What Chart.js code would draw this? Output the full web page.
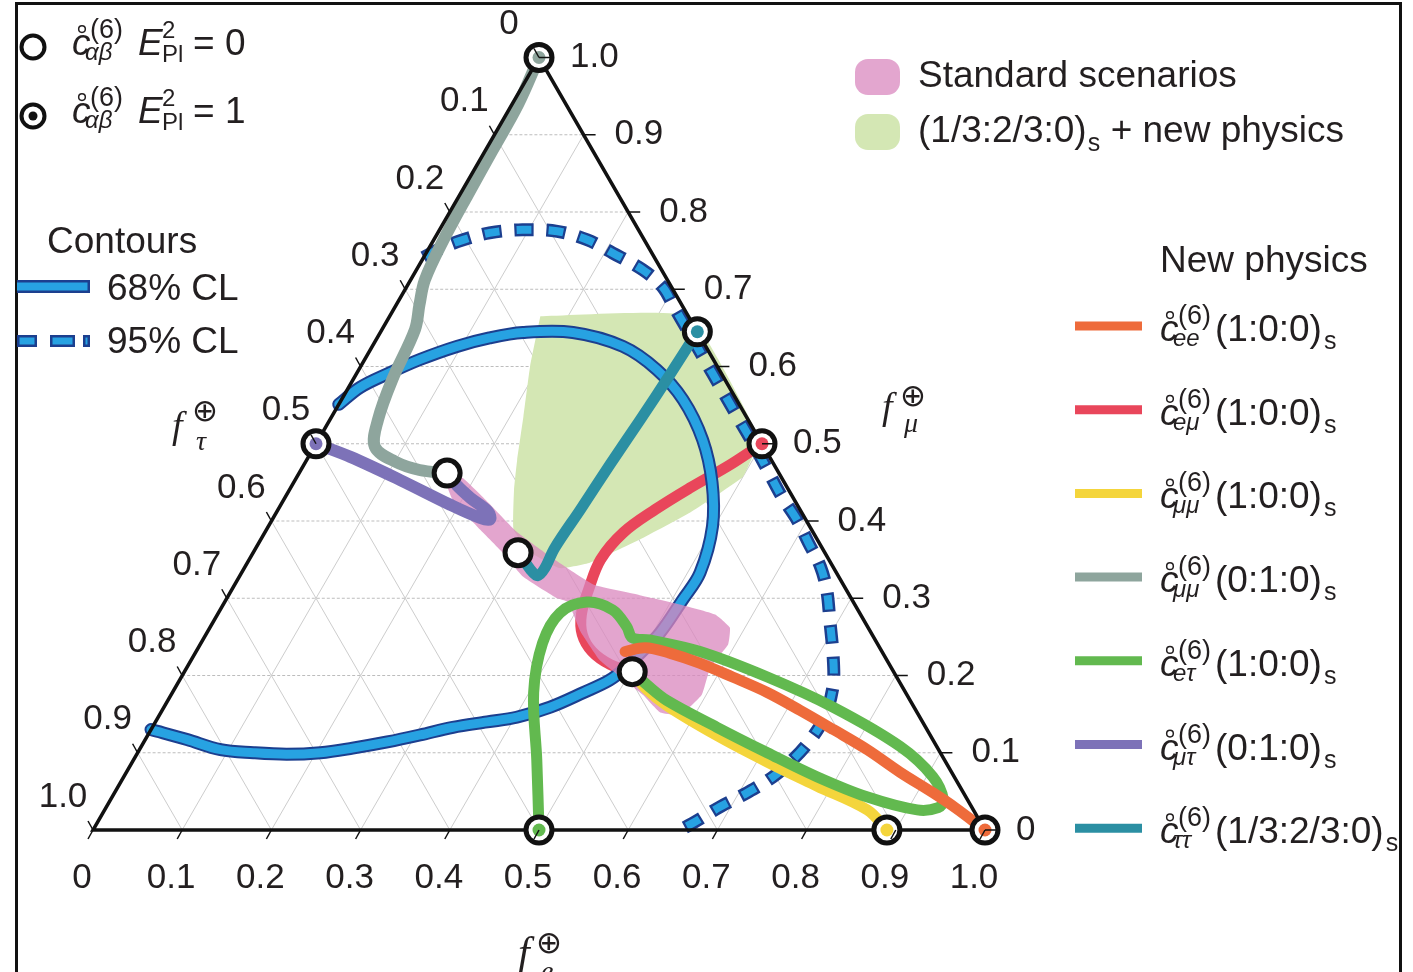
<!DOCTYPE html>
<html><head><meta charset="utf-8">
<script src="https://cdn.jsdelivr.net/npm/chart.js@4.4.1/dist/chart.umd.min.js"></script>
<style>html,body{margin:0;padding:0;background:#fff;overflow:hidden}canvas{display:block}</style>
</head><body>
<canvas id="c" width="1413" height="972" style="width:1413px;height:972px"></canvas>
<script>
// ---- data: ternary points [f_e, f_mu]  (f_tau = 1 - f_e - f_mu) ----
const tickValues = [0,0.1,0.2,0.3,0.4,0.5,0.6,0.7,0.8,0.9,1.0];
const tickLabels = ['0','0.1','0.2','0.3','0.4','0.5','0.6','0.7','0.8','0.9','1.0'];

const contour68 = [[0.000,0.551],[0.013,0.573],[0.037,0.592],[0.062,0.609],[0.095,0.626],[0.126,0.637],[0.160,0.644],[0.216,0.644],[0.281,0.626],[0.334,0.596],[0.383,0.557],[0.431,0.505],[0.469,0.450],[0.498,0.393],[0.514,0.333],[0.512,0.298],[0.508,0.255],[0.499,0.229],[0.492,0.210],[0.482,0.194],[0.461,0.178],[0.433,0.159],[0.402,0.146],[0.372,0.140],[0.337,0.133],[0.305,0.123],[0.273,0.114],[0.238,0.106],[0.205,0.100],[0.168,0.098],[0.130,0.100],[0.091,0.104],[0.047,0.117],[0.000,0.130]];
const contour95 = [[0.000,0.741],[0.015,0.754],[0.033,0.764],[0.058,0.773],[0.093,0.777],[0.133,0.775],[0.172,0.764],[0.209,0.747],[0.254,0.725],[0.287,0.703],[0.312,0.678],[0.343,0.647],[0.381,0.609],[0.416,0.574],[0.455,0.535],[0.498,0.492],[0.527,0.462],[0.557,0.431],[0.588,0.402],[0.616,0.372],[0.645,0.341],[0.667,0.311],[0.690,0.272],[0.720,0.220],[0.737,0.185],[0.747,0.146],[0.746,0.117],[0.739,0.091],[0.728,0.069],[0.709,0.048],[0.688,0.030],[0.668,0.009],[0.658,0.000]];
const standardRegion = [[0.163,0.459],[0.186,0.456],[0.231,0.424],[0.282,0.386],[0.327,0.359],[0.366,0.337],[0.404,0.317],[0.461,0.304],[0.512,0.292],[0.558,0.279],[0.583,0.262],[0.592,0.240],[0.587,0.210],[0.595,0.175],[0.584,0.149],[0.560,0.152],[0.529,0.175],[0.499,0.194],[0.458,0.220],[0.418,0.257],[0.385,0.295],[0.368,0.301],[0.318,0.328],[0.280,0.359],[0.234,0.393],[0.189,0.428],[0.163,0.459]];
const newPhysicsRegion = [[0.169,0.665],[0.336,0.665],[0.501,0.499],[0.498,0.482],[0.500,0.457],[0.464,0.411],[0.425,0.376],[0.384,0.346],[0.354,0.339],[0.310,0.360],[0.277,0.389],[0.252,0.440],[0.236,0.479],[0.215,0.535],[0.190,0.600],[0.169,0.665]];

const curveEE_100   = [[1,0],[0.952,0.029],[0.918,0.048],[0.867,0.075],[0.816,0.104],[0.765,0.130],[0.715,0.155],[0.667,0.178],[0.618,0.198],[0.572,0.216],[0.532,0.229],[0.501,0.236],[0.481,0.231]];
const curveEMu_100  = [[0.5,0.5],[0.478,0.473],[0.448,0.443],[0.423,0.415],[0.402,0.385],[0.394,0.350],[0.400,0.311],[0.408,0.279],[0.422,0.253],[0.444,0.231],[0.473,0.214],[0.502,0.205]];
const curveMuMu_100 = [[0.89,0],[0.855,0.026],[0.783,0.057],[0.712,0.088],[0.639,0.122],[0.563,0.161],[0.527,0.184],[0.502,0.205]];
const curveMuMu_010 = [[0,1],[0.007,0.939],[0.008,0.881],[0.009,0.823],[0.011,0.764],[0.016,0.712],[0.026,0.680],[0.037,0.648],[0.044,0.583],[0.054,0.531],[0.068,0.496],[0.100,0.477],[0.133,0.466],[0.166,0.462]];
const curveETau_100 = [[0.5,0],[0.452,0.091],[0.405,0.178],[0.383,0.242],[0.383,0.281],[0.406,0.295],[0.440,0.285],[0.467,0.263],[0.480,0.249],[0.501,0.246],[0.565,0.231],[0.657,0.198],[0.750,0.159],[0.851,0.108],[0.907,0.069],[0.934,0.039],[0.933,0.029],[0.911,0.026],[0.846,0.043],[0.777,0.069],[0.706,0.100],[0.633,0.133],[0.559,0.168],[0.527,0.188],[0.502,0.205]];
const curveMuTau_010 = [[0,0.5],[0.047,0.483],[0.118,0.453],[0.190,0.421],[0.232,0.404],[0.244,0.402],[0.237,0.412],[0.208,0.430],[0.185,0.446],[0.166,0.462]];
const curveTauTau   = [[0.355,0.645],[0.352,0.589],[0.348,0.531],[0.343,0.473],[0.339,0.415],[0.335,0.365],[0.337,0.339],[0.334,0.329],[0.322,0.337],[0.301,0.356],[0.297,0.359]];

const markersOpen = [[0.166,0.462],[0.297,0.359],[0.502,0.205]];
const markersDot  = [[0,1],[0.355,0.645],[0.5,0.5],[0,0.5],[0.5,0],[0.89,0],[1,0]];

const npSubs   = ['ee','eμ','μμ','μμ','eτ','μτ','ττ'];
const npLabels = ['(1:0:0)','(1:0:0)','(1:0:0)','(0:1:0)','(1:0:0)','(0:1:0)','(1/3:2/3:0)'];

// ---- styles ----
const C = {orange:'#ee6b3b', red:'#e9465b', yellow:'#f4d53c', gray:'#8ea59d', green:'#62b94f', purple:'#7d72b8', teal:'#2b8fa3',
  blue:'#27a2e2', navy:'#1c3f8f', pink:'rgba(218,135,190,0.75)', pinkSolid:'#e3a6cf', lime:'#d4e7b4', text:'#231f20', grid:'#cdcdcd'};
const npColors = [C.orange, C.red, C.yellow, C.gray, C.green, C.purple, C.teal];
const dotColors = [C.gray, C.teal, C.red, C.purple, C.green, C.yellow, C.orange];

const SQ3 = Math.sqrt(3)/2;
const toXY = p => ({x: p[0] + p[1]/2, y: p[1]*SQ3});

function lineDS(pts, color, width, extra) {
  return Object.assign({data: pts.map(toXY), showLine:true, borderColor:color, borderWidth:width,
    pointRadius:0, pointHoverRadius:0, tension:0.35, fill:false, borderCapStyle:'round', borderJoinStyle:'round'}, extra||{});
}
function shapeDS(pts, color) {
  return {data: pts.map(toXY), showLine:true, borderColor:'rgba(0,0,0,0)', borderWidth:1, backgroundColor:color,
    pointRadius:0, pointHoverRadius:0, tension:0.12, fill:'shape'};
}

const layers = [];
// grid
tickValues.slice(1,10).forEach(v=>{
  layers.push(lineDS([[v,0],[v,1-v]], C.grid, 1, {tension:0, borderCapStyle:'butt'}));
  layers.push(lineDS([[0,v],[1-v,v]], '#bdbdbd', 1, {tension:0, borderCapStyle:'butt', borderDash:[3,2]}));
  layers.push(lineDS([[1-v,0],[0,1-v]], C.grid, 1, {tension:0, borderCapStyle:'butt'}));
});
layers.push(shapeDS(newPhysicsRegion, C.lime));
layers.push(lineDS(curveEMu_100, C.red, 11));
layers.push(lineDS(contour95, C.navy, 13, {borderDash:[19,13], borderCapStyle:'butt', borderJoinStyle:'miter'}));
layers.push(lineDS(contour95, C.blue, 8, {borderDash:[14.5,17.5], borderDashOffset:-2.25, borderCapStyle:'butt', borderJoinStyle:'miter'}));
layers.push(lineDS(contour68, C.navy, 13));
layers.push(lineDS(contour68, C.blue, 9));
layers.push(shapeDS(standardRegion, C.pink));
layers.push(lineDS(curveTauTau, C.teal, 11));
layers.push(lineDS(curveMuMu_010, C.gray, 12));
layers.push(lineDS(curveMuTau_010, C.purple, 12));
layers.push(lineDS(curveMuMu_100, C.yellow, 11));
layers.push(lineDS(curveETau_100, C.green, 11));
layers.push(lineDS(curveEE_100, C.orange, 11));
layers.push(lineDS([[0,0],[1,0],[0,1],[0,0],[1,0]], '#111', 3.5, {tension:0, borderJoinStyle:'miter', borderCapStyle:'butt'}));
layers.push({data: markersOpen.concat(markersDot).map(toXY), showLine:false, pointRadius:13, pointHoverRadius:13,
  pointBorderWidth:5, pointBorderColor:'#111', pointBackgroundColor:'#fff'});
layers.push({data: markersDot.map(toXY), showLine:false, pointRadius:6.5, pointHoverRadius:6.5,
  pointBorderWidth:0, pointBackgroundColor:dotColors});
const datasets = layers.map((d,i)=>Object.assign(d,{order: layers.length - i, clip: false}));

const SANS = '"Liberation Sans", Arial, Helvetica, sans-serif';
const SERIF = '"Liberation Serif", "Times New Roman", serif';

function coef(ctx, x, yb, sub, size) {
  ctx.font = 'italic ' + size + 'px ' + SANS;
  ctx.fillText('c', x, yb);
  ctx.beginPath(); ctx.lineWidth = 1.5; ctx.strokeStyle = C.text;
  ctx.arc(x + size*0.27, yb - size*0.70, size*0.09, 0, 2*Math.PI); ctx.stroke();
  ctx.font = '27px ' + SANS;
  ctx.fillText('(6)', x + 18, yb - 17);
  ctx.font = 'italic 24px ' + SANS;
  ctx.fillText(sub, x + 13, yb + 5);
}

const decor = {
  id: 'decor',
  beforeDraw(chart) {
    const c = chart.ctx; c.save(); c.fillStyle = '#fff'; c.fillRect(0,0,chart.width,chart.height); c.restore();
  },
  afterDraw(chart) {
    const ctx = chart.ctx, xs = chart.scales.x, ys = chart.scales.y;
    const P = (fe, fmu) => { const q = toXY([fe, fmu]); return [xs.getPixelForValue(q.x), ys.getPixelForValue(q.y)]; };
    const seg = (x1,y1,x2,y2) => { ctx.beginPath(); ctx.moveTo(x1,y1); ctx.lineTo(x2,y2); ctx.stroke(); };
    const txt = (s, x, y, font, align) => { ctx.font = font; ctx.textAlign = align || 'left'; ctx.fillText(s, x, y); ctx.textAlign = 'left'; };
    ctx.save();
    ctx.fillStyle = C.text; ctx.strokeStyle = '#111'; ctx.textBaseline = 'alphabetic';
    const TF = '35px ' + SANS;
    ctx.lineWidth = 1.5;
    tickValues.forEach((v, i) => {
      let [x, y] = P(v, 0);
      seg(x, y, x-5, y+9);
      txt(tickLabels[i], x-11, y+57.5, TF, 'center');
      [x, y] = P(1-v, v);
      seg(x, y, x+12, y);
      txt(tickLabels[i], x+31, y+9.5, TF, 'left');
      [x, y] = P(0, 1-v);
      seg(x, y, x-5, y-9);
      txt(tickLabels[i], x-30, y-23.5, TF, 'center');
    });

    // axis titles
    const ax = (fx, fy, ox, oy, sub, sx, sy, fs) => {
      txt('f', fx, fy, 'italic ' + fs + 'px ' + SERIF);
      txt('⊕', ox, oy, '31px "DejaVu Sans", sans-serif');
      txt(sub, sx, sy, 'italic 28px ' + SERIF);
    };
    ax(518, 966, 536, 953, 'e', 541, 980, 42);
    ax(882, 419, 900, 406, 'μ', 904, 432, 38);
    ax(172, 438, 192, 421, 'τ', 196, 450, 38);

    // frame
    ctx.lineWidth = 3; ctx.strokeStyle = '#111';
    ctx.beginPath(); ctx.moveTo(16.5, 972); ctx.lineTo(16.5, 3.5); ctx.lineTo(1400.5, 3.5); ctx.lineTo(1400.5, 972); ctx.stroke();

    // legend: markers
    const LF = '37px ' + SANS;
    [[47, 55, '= 0', false], [116, 123, '= 1', true]].forEach(([cy, yb, s, dot]) => {
      ctx.beginPath(); ctx.lineWidth = 4; ctx.strokeStyle = '#111'; ctx.fillStyle = '#fff';
      ctx.arc(33, cy, 11.5, 0, 2*Math.PI); ctx.fill(); ctx.stroke();
      ctx.fillStyle = C.text;
      if (dot) { ctx.beginPath(); ctx.fillStyle = '#111'; ctx.arc(33, cy, 4.5, 0, 2*Math.PI); ctx.fill(); ctx.fillStyle = C.text; }
      coef(ctx, 72, yb, 'αβ', 37);
      txt('E', 138, yb, 'italic 37px ' + SANS);
      txt('2', 162, yb-17, '24px ' + SANS);
      txt('Pl', 162, yb+7, '24px ' + SANS);
      txt(s, 193, yb, LF);
    });

    // legend: contours
    txt('Contours', 47, 253, LF);
    ctx.fillStyle = C.navy; ctx.fillRect(17, 280, 73, 13);
    ctx.fillStyle = C.blue; ctx.fillRect(17, 282.5, 70.5, 8);
    [[17,37],[50,75],[83,90]].forEach(([a,b]) => {
      ctx.fillStyle = C.navy; ctx.fillRect(a, 335, b-a, 12);
      ctx.fillStyle = C.blue; ctx.fillRect(a+2.5, 337.5, b-a-5, 7);
    });
    ctx.fillStyle = C.text;
    txt('68% CL', 107, 300, LF);
    txt('95% CL', 107, 353, LF);

    // legend: regions
    const rr = (x,y,w,h,r,col) => { ctx.beginPath(); ctx.fillStyle = col; ctx.roundRect(x,y,w,h,r); ctx.fill(); };
    rr(855, 59, 45, 36, 13, C.pinkSolid);
    rr(855, 114, 45, 36, 13, C.lime);
    ctx.fillStyle = C.text;
    txt('Standard scenarios', 918, 87, LF);
    ctx.font = LF; const w1 = ctx.measureText('(1/3:2/3:0)').width;
    txt('(1/3:2/3:0)', 918, 142, LF);
    txt('s', 918 + w1 + 1, 151, '25px ' + SANS);
    txt('+ new physics', 918 + w1 + 24, 142, LF);

    // legend: new physics
    txt('New physics', 1160, 272, LF);
    npSubs.forEach((sub, i) => {
      const yc = 326 + 83.7*i, yb = yc + 15;
      ctx.strokeStyle = npColors[i]; ctx.lineWidth = 9;
      seg(1075, yc, 1142, yc);
      ctx.fillStyle = C.text;
      coef(ctx, 1160, yb, sub, 37);
      ctx.font = LF; const w = ctx.measureText(npLabels[i]).width;
      txt(npLabels[i], 1215, yb, LF);
      txt('s', 1217 + w, yb + 8, '25px ' + SANS);
    });
    ctx.restore();
  }
};

new Chart(document.getElementById('c'), {
  type: 'scatter',
  data: {datasets},
  options: {
    responsive: false, animation: false, devicePixelRatio: 1, events: [],
    layout: {padding: 0, autoPadding: false},
    plugins: {legend: {display: false}, tooltip: {enabled: false}, title: {display: false}},
    scales: {
      x: {type: 'linear', display: false, min: -93/892, max: (1413-93)/892},
      y: {type: 'linear', display: false, min: (830-972)/892, max: 830/892}
    }
  },
  plugins: [decor]
});
</script>
</body></html>
